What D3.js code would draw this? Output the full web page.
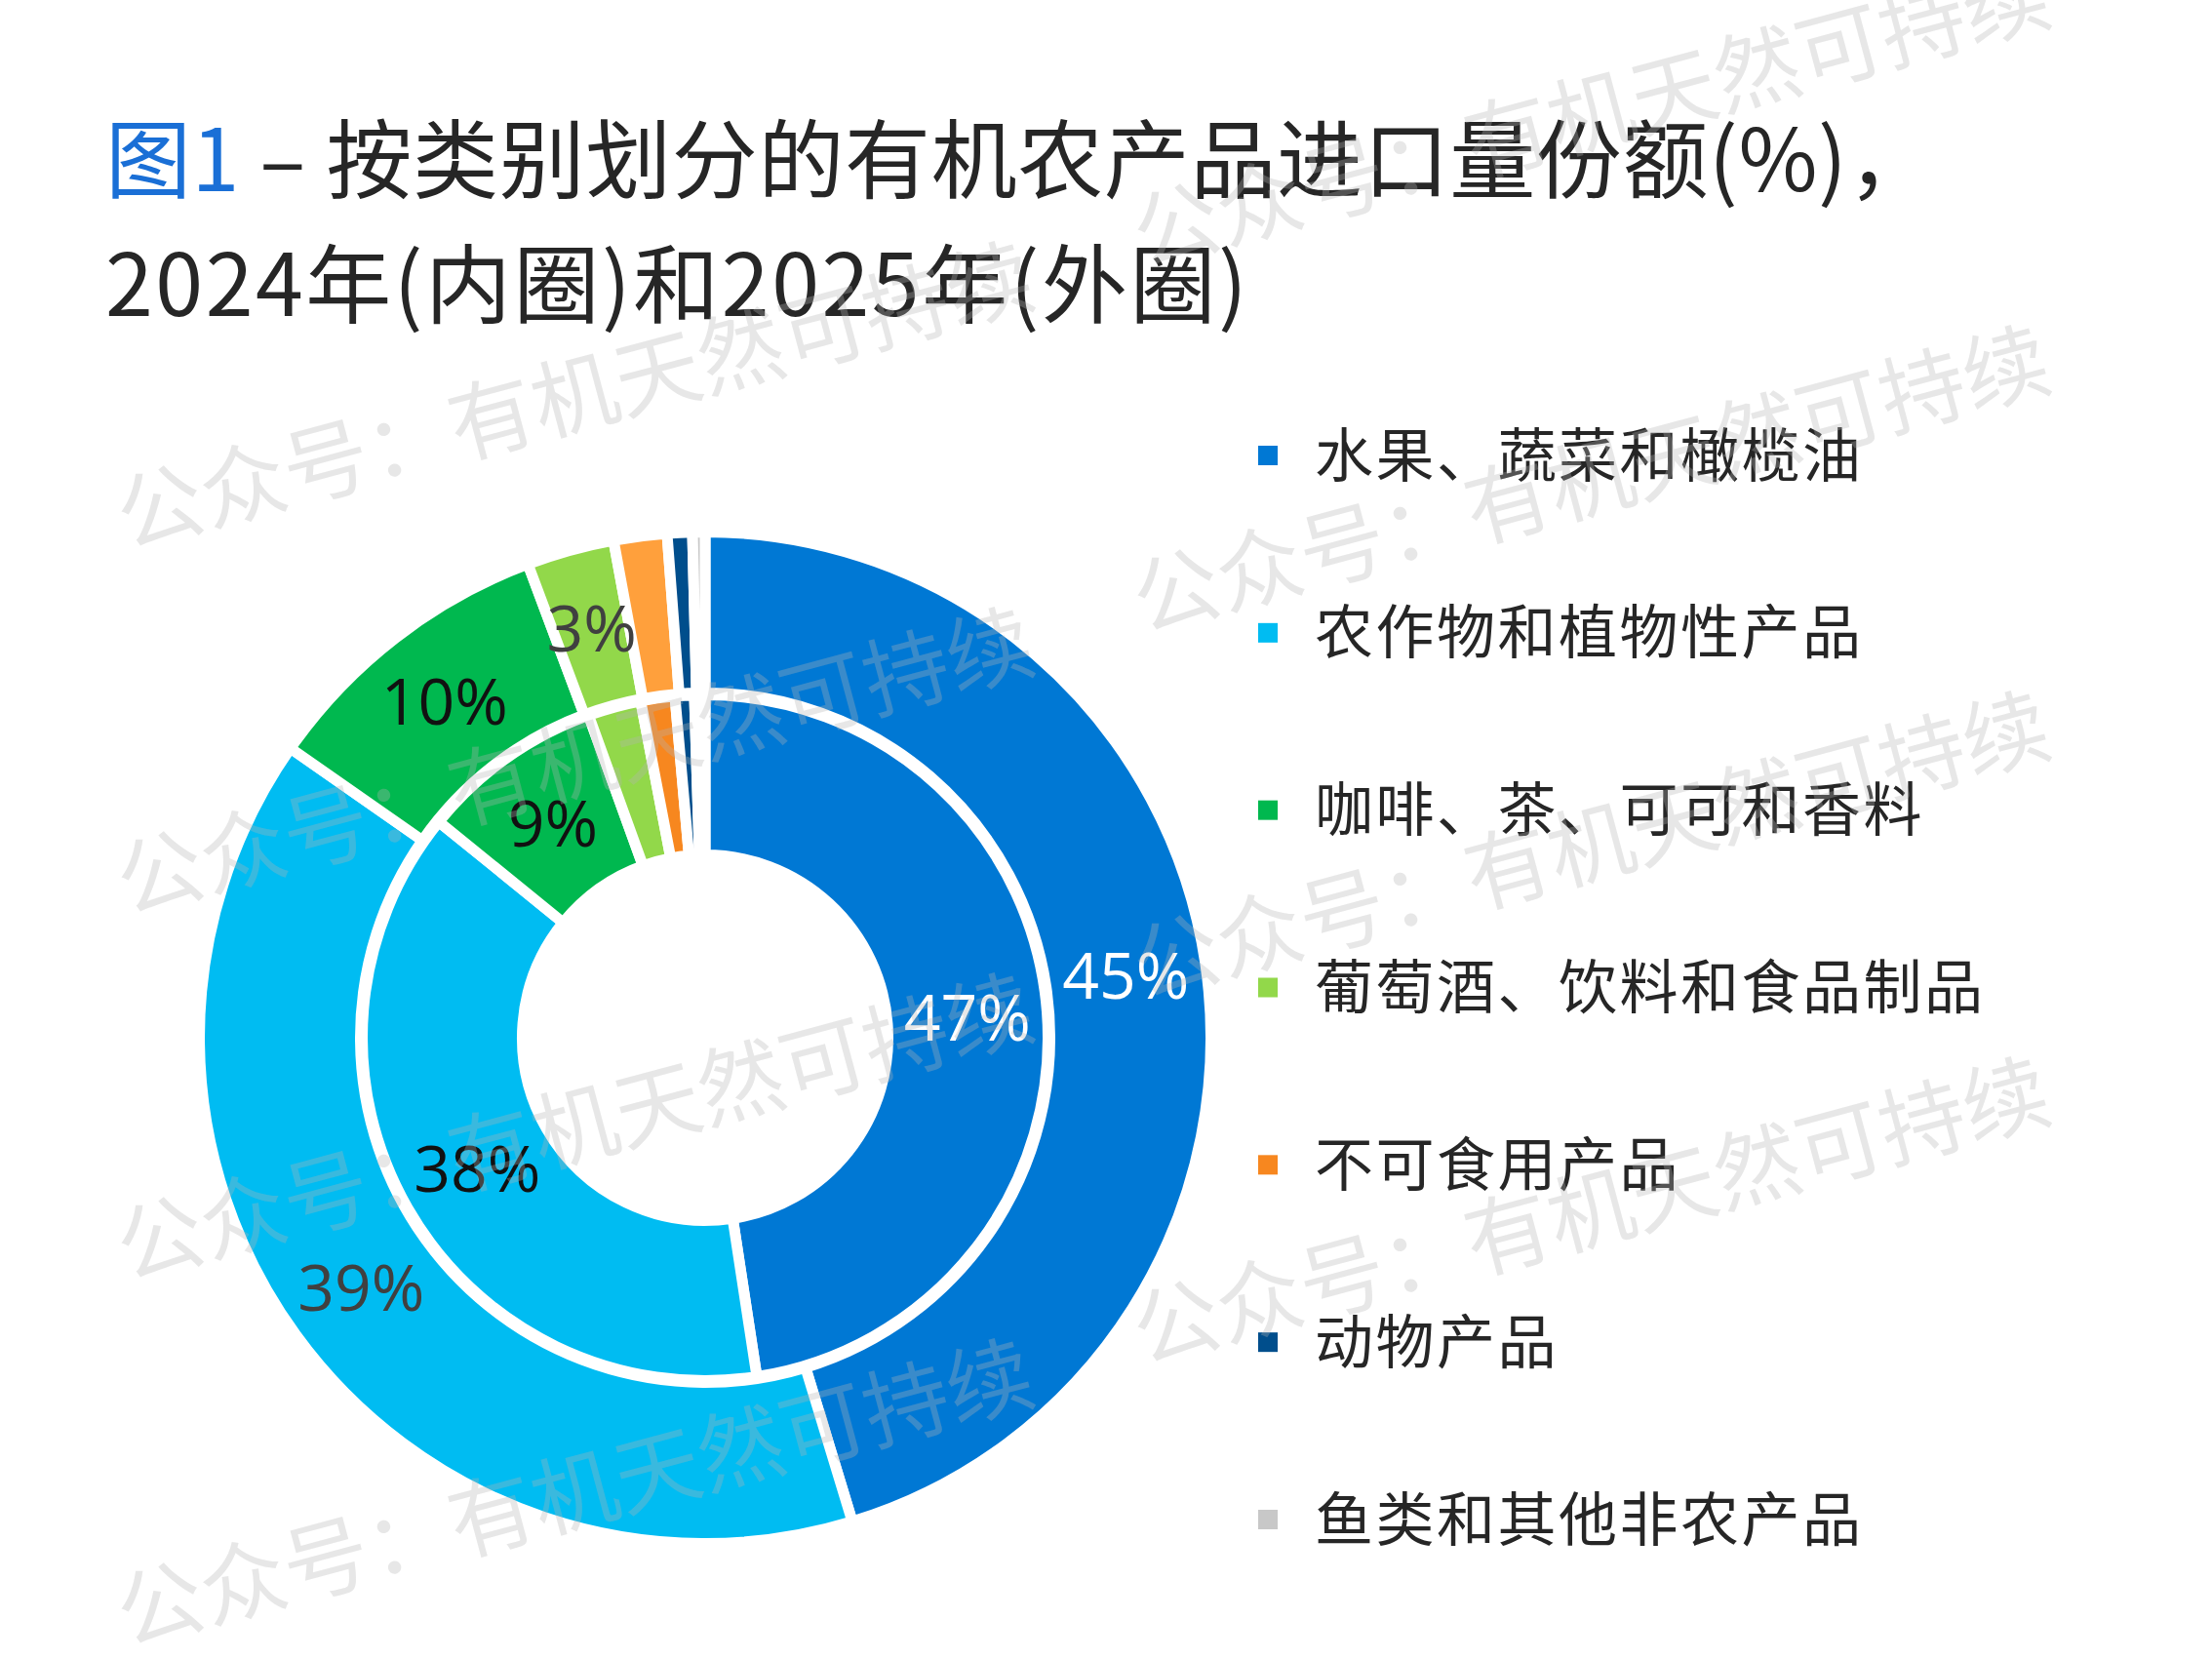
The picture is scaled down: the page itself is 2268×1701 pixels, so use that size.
<!DOCTYPE html>
<html><head><meta charset="utf-8">
<script src="https://cdn.jsdelivr.net/npm/d3@7"></script>
<style>html,body{margin:0;padding:0;background:#fff;overflow:hidden} svg{display:block}</style>
</head><body>
<script>
// ---------- data ----------
const categories = ["水果、蔬菜和橄榄油","农作物和植物性产品","咖啡、茶、可可和香料","葡萄酒、饮料和食品制品","不可食用产品","动物产品","鱼类和其他非农产品"];
const share2024 = [47.4, 38.1, 8.6, 2.5, 1.6, 0.9, 0.5];   // inner ring
const share2025 = [45.3, 39.4, 9.6, 2.8, 1.7, 0.8, 0.4];   // outer ring
const titleFig = "图1";
const titleLine1 = " – 按类别划分的有机农产品进口量份额(%)，";
const titleLine2 = "2024年(内圈)和2025年(外圈)";
const watermarkText = "公众号：有机天然可持续";

// ---------- styles ----------
const innerColors = ["#0078D4","#00BCF2","#00B84F","#92D84A","#F7871F","#004E8C","#C8C8C8"];
const outerColors = ["#0078D4","#00BCF2","#00B84F","#92D84A","#FFA03C","#004E8C","#C8C8C8"];
const innerLabelColors = ["#ffffff","#111111","#111111","#404040","#404040","#ffffff","#404040"];
const outerLabelColors = ["#ffffff","#404040","#111111","#404040","#404040","#ffffff","#404040"];

const W = 2268, H = 1701;
const svg = d3.select("body").append("svg").attr("width", W).attr("height", H);
svg.append("rect").attr("width", W).attr("height", H).attr("fill", "#fff");

// ---------- title ----------
const title = svg.append("g").attr("font-family", "'Noto Sans CJK SC', 'Noto Sans', sans-serif").attr("font-size", 88);
const t1 = title.append("text").attr("x", 108).attr("y", 196).attr("letter-spacing", 0.6);
t1.append("tspan").attr("fill", "#1A6FD6").text(titleFig);
t1.append("tspan").attr("fill", "#262626").text(titleLine1);
title.append("text").attr("x", 108).attr("y", 324).attr("fill", "#262626").attr("letter-spacing", 2.5).text(titleLine2);

// ---------- donut ----------
const cx = 723, cy = 1064;
const sw = 11;
const pie = d3.pie().sort(null).value(d => d.v);
const innerData = pie(categories.map((c, i) => ({c, v: share2024[i], i})));
const outerData = pie(categories.map((c, i) => ({c, v: share2025[i], i})));
const innerArc = d3.arc().innerRadius(187.5).outerRadius(351.5);
const outerArc = d3.arc().innerRadius(353.5).outerRadius(518.5);

const chart = svg.append("g").attr("transform", `translate(${cx},${cy})`);
chart.selectAll("path.outer").data(outerData).join("path")
  .attr("class", "outer").attr("d", outerArc)
  .attr("fill", d => outerColors[d.data.i]).attr("stroke", "#fff").attr("stroke-width", sw).attr("stroke-linejoin", "miter");
chart.selectAll("path.inner").data(innerData).join("path")
  .attr("class", "inner").attr("d", innerArc)
  .attr("fill", d => innerColors[d.data.i]).attr("stroke", "#fff").attr("stroke-width", sw).attr("stroke-linejoin", "miter");

const minAngle = 0.17;
const fmt = v => Math.round(v) + "%";
const lab = chart.append("g").attr("font-family", "'Open Sans', 'Noto Sans', sans-serif").attr("font-size", 66)
  .attr("text-anchor", "middle");
lab.selectAll("text.o").data(outerData.filter(d => d.endAngle - d.startAngle > minAngle)).join("text")
  .attr("class", "o")
  .attr("transform", d => `translate(${outerArc.centroid(d)})`).attr("dy", "0.36em")
  .attr("fill", d => outerLabelColors[d.data.i]).text(d => fmt(d.data.v));
lab.selectAll("text.i").data(innerData.filter(d => d.endAngle - d.startAngle > minAngle)).join("text")
  .attr("class", "i")
  .attr("transform", d => `translate(${innerArc.centroid(d)})`).attr("dy", "0.36em")
  .attr("fill", d => innerLabelColors[d.data.i]).text(d => fmt(d.data.v));

// ---------- legend ----------
const ly = d3.scalePoint().domain(categories).range([467, 1558]);
const legend = svg.append("g").attr("font-family", "'Noto Sans CJK SC', sans-serif").attr("font-size", 60);
const row = legend.selectAll("g").data(categories).join("g").attr("transform", d => `translate(0,${ly(d)})`);
row.append("rect").attr("x", 1290).attr("y", -10).attr("width", 20).attr("height", 20)
  .attr("fill", (d, i) => innerColors[i]);
row.append("text").attr("x", 1348).attr("dy", "0.36em").attr("fill", "#262626")
  .attr("letter-spacing", 2.5).text(d => d);

// ---------- watermark ----------
const wm = svg.append("g").attr("font-family", "'Noto Sans CJK SC', sans-serif").attr("font-size", 88)
  .attr("fill", "rgba(180,180,180,0.32)");
const wmPos = [];
for (let k = 0; k < 4; k++) {
  wmPos.push([130, 562 + 375 * k]);
  wmPos.push([1172, 273 + 375 * k]);
}
wm.selectAll("text").data(wmPos).join("text")
  .attr("transform", d => `translate(${d[0]},${d[1]}) rotate(-15)`).text(watermarkText);
</script>
</body></html>
